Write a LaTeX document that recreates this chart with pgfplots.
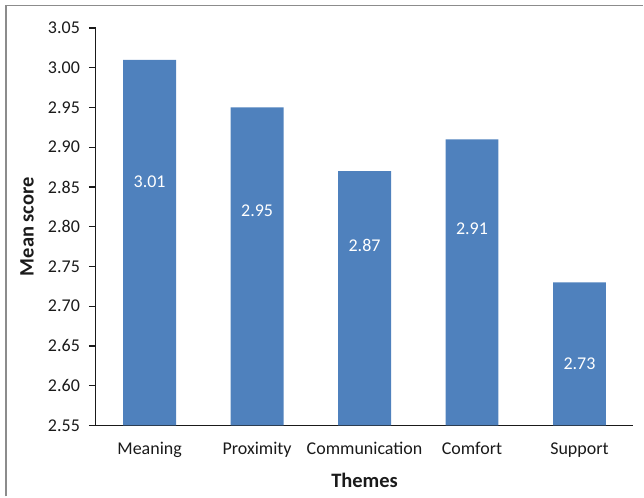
\documentclass[border=0pt]{standalone}
\usepackage{pgfplots}
\pgfplotsset{compat=1.18}
\usepackage{fontspec}
\setmainfont{Carlito}
\definecolor{barblue}{HTML}{4F81BD}
\definecolor{framegray}{HTML}{8C8C8C}
\definecolor{txt}{HTML}{1A1A1A}

\begin{document}
\begin{tikzpicture}
  % page extent and chart-area frame
  \path (0pt,0pt) rectangle (644pt,-497pt);
  \draw[framegray, line width=1.6pt] (6pt,-497pt) -- (6pt,-5.5pt) -- (644pt,-5.5pt);
  \begin{axis}[
    at={(96pt,-426pt)}, anchor=south west,
    scale only axis, width=538pt, height=398pt,
    xmin=-0.5, xmax=4.5, ymin=2.55, ymax=3.05,
    axis lines*=left,
    axis line style={txt, line width=1.2pt},
    ytick={2.55,2.60,...,3.051},
    yticklabel style={xshift=-5.5pt, /pgf/number format/.cd, fixed, fixed zerofill, precision=2, assume math mode=true},
    xtick={0,1,2,3,4},
    xticklabels={Meaning,Proximity,Communication,Comfort,Support},
    xticklabel style={yshift=-6.5pt},
    xtick style={draw=none},
    minor xtick={-0.5,0.5,1.5,2.5,3.5,4.5},
    minor tick length=7pt, major tick length=7pt,
    tick align=outside,
    tick style={txt, line width=1.2pt},
    ticklabel style={font=\fontsize{18}{21}\selectfont, text=txt},
    ylabel={Mean score}, xlabel={Themes},
    label style={font=\fontsize{20.5}{24}\selectfont\bfseries, text=txt},
    ylabel style={at={(axis description cs:-0.128,0.5)}, anchor=center},
    xlabel style={at={(axis description cs:0.5,-0.138)}, anchor=center},
    ybar, bar width=53pt,
  ]
    \addplot[fill=barblue, draw=none] coordinates {(0,3.01) (1,2.95) (2,2.87) (3,2.91) (4,2.73)};
    \begin{scope}[every node/.style={text=white, font=\fontsize{18}{21}\selectfont}]
      \node at (axis cs:0,2.8565) {3.01};
      \node at (axis cs:1,2.820) {2.95};
      \node at (axis cs:2,2.776) {2.87};
      \node at (axis cs:3,2.797) {2.91};
      \node at (axis cs:4,2.628) {2.73};
    \end{scope}
  \end{axis}
\end{tikzpicture}
\end{document}
